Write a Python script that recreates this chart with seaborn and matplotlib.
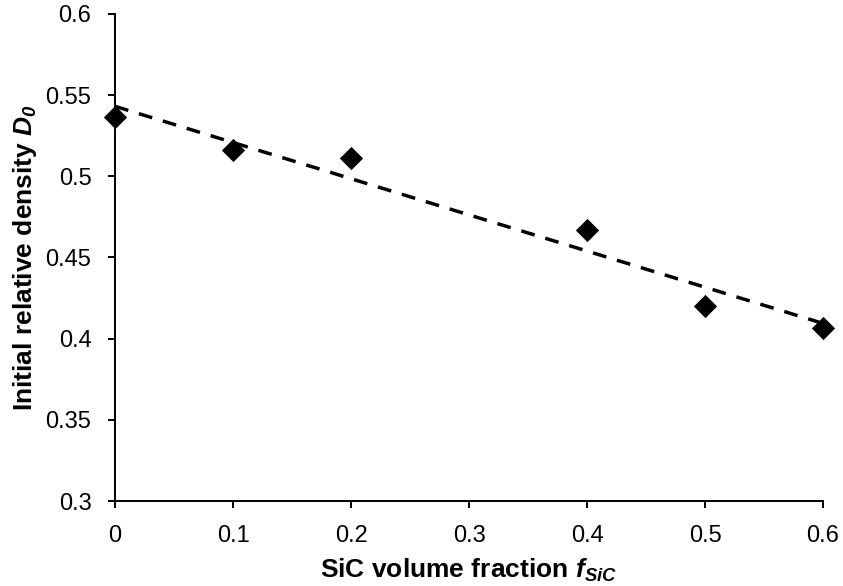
import numpy as np
import pandas as pd
import seaborn as sns
import matplotlib.pyplot as plt

sic_fraction = [0.0, 0.1, 0.2, 0.4, 0.5, 0.6]
density = [0.5364, 0.516, 0.511, 0.467, 0.4204, 0.4068]

df = pd.DataFrame({"f_sic": sic_fraction, "D0": density})

sns.set_style("ticks")
plt.rcParams["font.family"] = ["Liberation Sans", "DejaVu Sans"]
plt.rcParams["mathtext.fontset"] = "custom"
plt.rcParams["mathtext.bfit"] = "Liberation Sans:italic:bold"
plt.rcParams["mathtext.it"] = "Liberation Sans:italic"
plt.rcParams["mathtext.rm"] = "Liberation Sans"
plt.rcParams["text.color"] = "black"
plt.rcParams["axes.labelcolor"] = "black"

fig = plt.figure(figsize=(8.43, 5.86), dpi=100)
ax = fig.add_axes([115 / 843, 1 - 501 / 586, 708 / 843, 487 / 586])

# linear trendline (as in the spreadsheet fit)
slope, icpt = np.polyfit(df["f_sic"], df["D0"], 1)
trend = pd.DataFrame({"f_sic": [0.0, 0.6]})
trend["D0"] = icpt + slope * trend["f_sic"]
sns.lineplot(data=trend, x="f_sic", y="D0", ax=ax, color="black",
             linewidth=2.5, dashes=False)
ax.lines[-1].set_dashes((4, 3.2))

sns.scatterplot(data=df, x="f_sic", y="D0", ax=ax, marker="D", s=140,
                color="black", edgecolor="black", linewidth=0, zorder=3,
                clip_on=False)

ax.set_xlim(0, 0.6)
ax.set_ylim(0.3, 0.6)
ax.set_xticks([0, 0.1, 0.2, 0.3, 0.4, 0.5, 0.6])
ax.set_xticklabels(["0", "0.1", "0.2", "0.3", "0.4", "0.5", "0.6"])
ax.set_yticks([0.3, 0.35, 0.4, 0.45, 0.5, 0.55, 0.6])
ax.set_yticklabels(["0.3", "0.35", "0.4", "0.45", "0.5", "0.55", "0.6"])

for side in ["top", "right"]:
    ax.spines[side].set_visible(False)
for side in ["left", "bottom"]:
    ax.spines[side].set_linewidth(1.4)
    ax.spines[side].set_color("black")
ax.tick_params(axis="both", direction="out", length=5, width=1.4,
               labelsize=17, colors="black")
ax.tick_params(axis="x", pad=12)
ax.tick_params(axis="y", pad=12)

ax.set_xlabel(r"SiC volume fraction $\mathbfit{f}_{\mathbfit{SiC}}$",
              fontsize=19, fontweight="bold", labelpad=7, color="black")
ax.set_ylabel(r"Initial relative density $\mathbfit{D}_{\mathbfit{0}}$",
              fontsize=19, fontweight="bold", labelpad=5, color="black")
ax.patch.set_visible(False)

fig.savefig("out.png", dpi=100)
